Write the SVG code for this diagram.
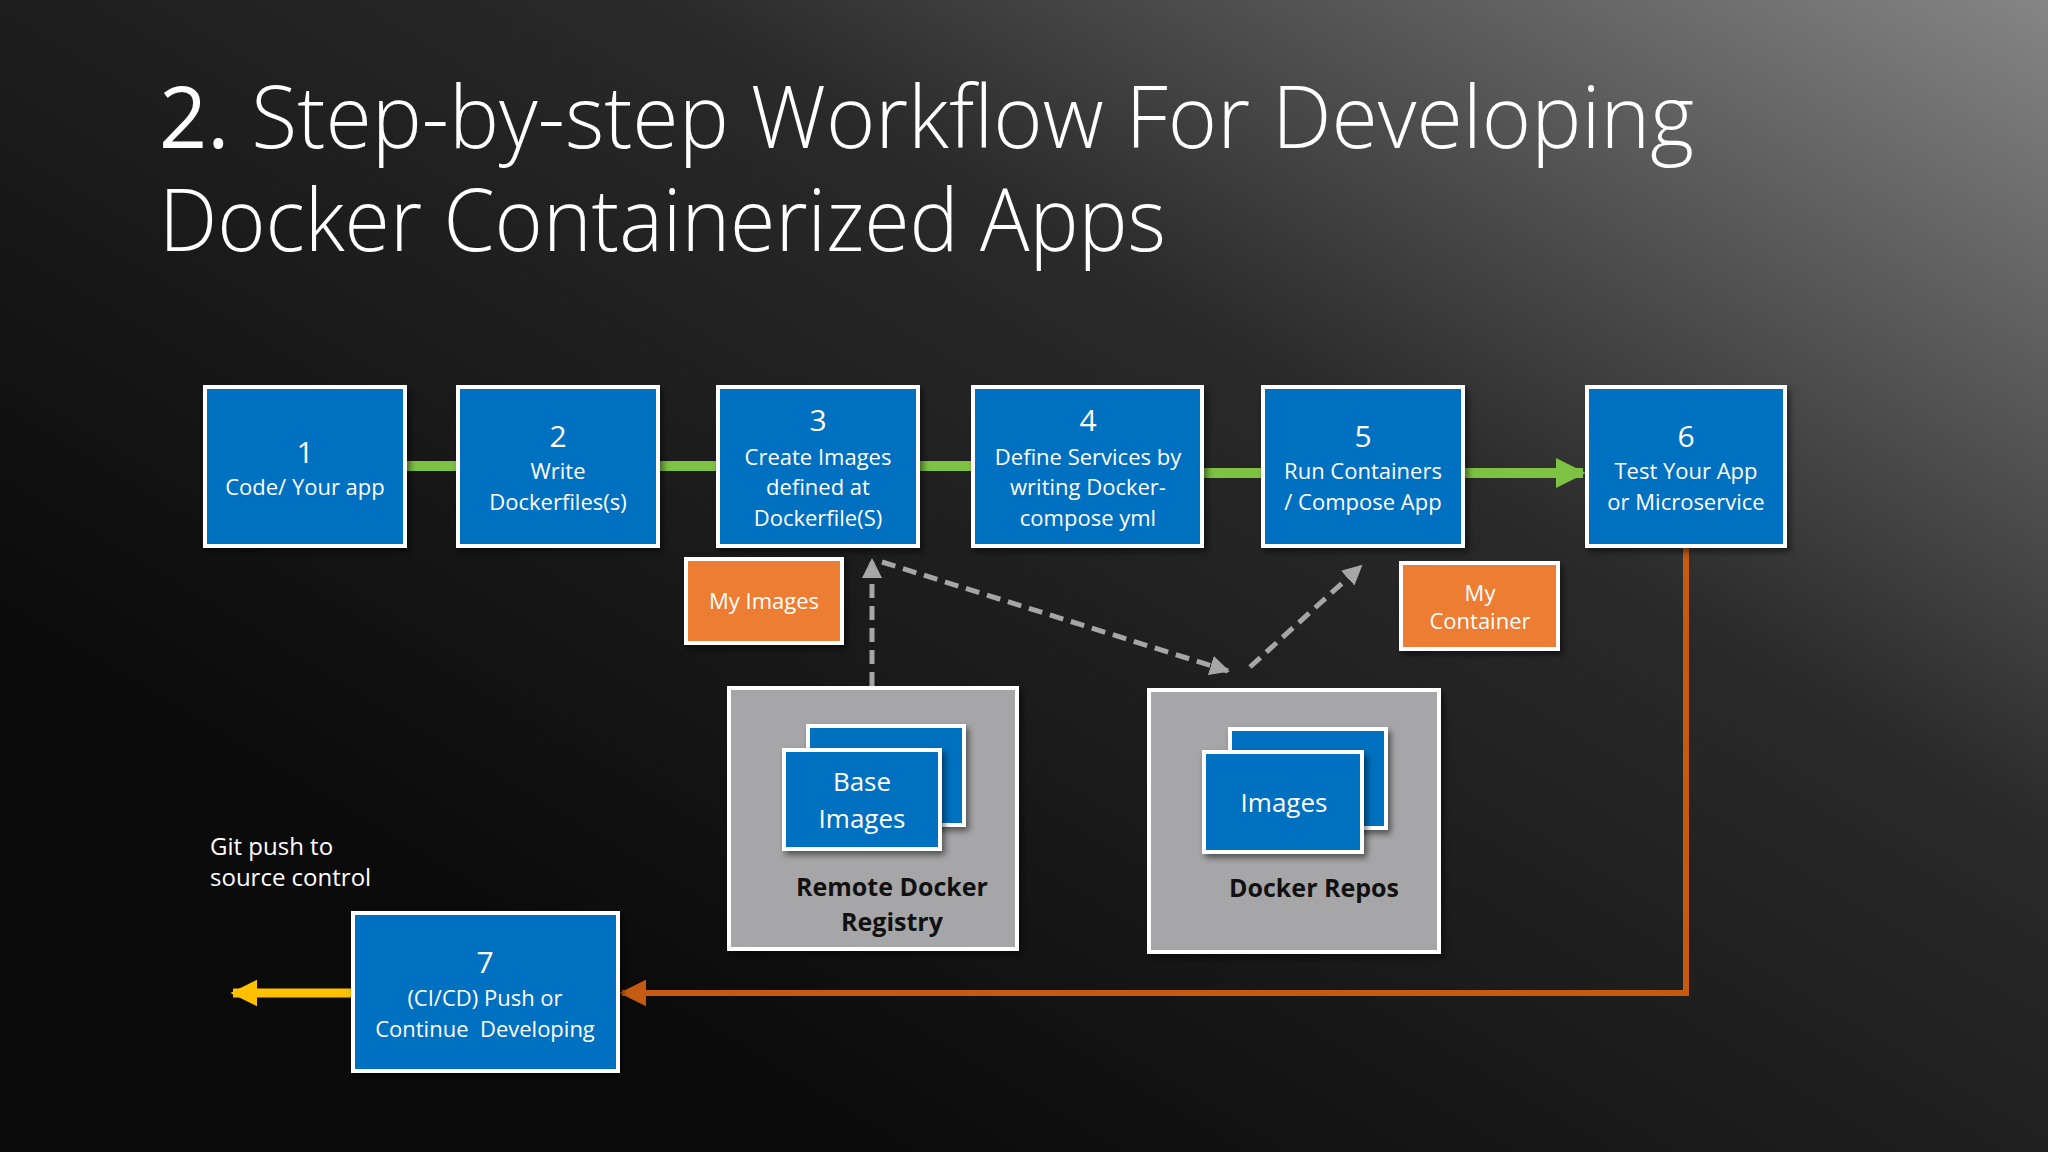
<svg xmlns="http://www.w3.org/2000/svg" width="2048" height="1152" viewBox="0 0 2048 1152">
<defs>
<linearGradient id="bg" x1="1" y1="0" x2="0.2" y2="0.75">
<stop offset="0" stop-color="#858585"/>
<stop offset="0.45" stop-color="#2a2a2a"/>
<stop offset="1" stop-color="#0b0b0b"/>
</linearGradient>
<marker id="gArr" viewBox="0 0 10 10" refX="9" refY="5" markerWidth="4" markerHeight="4" orient="auto" markerUnits="strokeWidth"><path d="M0,0 L10,5 L0,10 z" fill="#a6a6a6"/></marker>
<marker id="oArr" viewBox="0 0 10 10" refX="9" refY="5" markerWidth="4.5" markerHeight="4.5" orient="auto" markerUnits="strokeWidth"><path d="M0,0 L10,5 L0,10 z" fill="#c55a11"/></marker>
<marker id="yArr" viewBox="0 0 10 10" refX="9" refY="5" markerWidth="3" markerHeight="3" orient="auto" markerUnits="strokeWidth"><path d="M0,0 L10,5 L0,10 z" fill="#ffc000"/></marker>
<marker id="grArr" viewBox="0 0 10 10" refX="9" refY="5" markerWidth="3" markerHeight="3" orient="auto" markerUnits="strokeWidth"><path d="M0,0 L10,5 L0,10 z" fill="#7dc242"/></marker>
<filter id="sh" x="-10%" y="-10%" width="130%" height="130%"><feDropShadow dx="3" dy="4" stdDeviation="3" flood-color="#000" flood-opacity="0.5"/></filter>
</defs>
<style>
text{font-family:"Open Sans","Noto Sans","DejaVu Sans",sans-serif;fill:#fff;text-anchor:middle}
.blue{fill:#0070c0;stroke:#fff;stroke-width:4}
.orange{fill:#ed7d31;stroke:#fff;stroke-width:4}
.gray{fill:#a6a6a8;stroke:#fff;stroke-width:4}
.t{font-size:22px}
.n{font-size:30px}
.dk{fill:#111;font-weight:bold;font-size:25px}
.title{font-size:86px;text-anchor:start;font-weight:300}
</style>
<rect width="2048" height="1152" fill="url(#bg)"/>
<text class="title" x="159" y="148" textLength="1535" lengthAdjust="spacingAndGlyphs"><tspan font-weight="400">2.</tspan> Step-by-step Workflow For Developing</text>
<text class="title" x="159" y="251" textLength="1007" lengthAdjust="spacingAndGlyphs">Docker Containerized Apps</text>

<g id="connectors">
<line x1="405" y1="466" x2="458" y2="466" stroke="#7dc242" stroke-width="10"/>
<line x1="658" y1="466" x2="718" y2="466" stroke="#7dc242" stroke-width="10"/>
<line x1="918" y1="466" x2="973" y2="466" stroke="#7dc242" stroke-width="10"/>
<line x1="1202" y1="473" x2="1263" y2="473" stroke="#7dc242" stroke-width="10"/>
<line x1="1463" y1="473" x2="1583" y2="473" stroke="#7dc242" stroke-width="10" marker-end="url(#grArr)"/>
<line x1="872" y1="686" x2="872" y2="560" stroke="#a6a6a6" stroke-width="5" stroke-dasharray="14,8" marker-end="url(#gArr)"/>
<line x1="882" y1="562" x2="1228" y2="671" stroke="#a6a6a6" stroke-width="5" stroke-dasharray="14,8" marker-end="url(#gArr)"/>
<line x1="1250" y1="667" x2="1361" y2="566" stroke="#a6a6a6" stroke-width="5" stroke-dasharray="14,8" marker-end="url(#gArr)"/>
<polyline points="1686,546 1686,993 622,993" fill="none" stroke="#c55a11" stroke-width="6" marker-end="url(#oArr)"/>
<line x1="353" y1="993" x2="233" y2="993" stroke="#ffc000" stroke-width="9" marker-end="url(#yArr)"/>
</g>

<g id="n1"><rect class="blue" x="205" y="387" width="200" height="159" filter="url(#sh)"/><text class="n" x="305" y="463">1</text><text class="t" x="305" y="495">Code/ Your app</text></g>
<g id="n2"><rect class="blue" x="458" y="387" width="200" height="159" filter="url(#sh)"/><text class="n" x="558" y="447">2</text><text class="t" x="558" y="479">Write</text><text class="t" x="558" y="510">Dockerfiles(s)</text></g>
<g id="n3"><rect class="blue" x="718" y="387" width="200" height="159" filter="url(#sh)"/><text class="n" x="818" y="431">3</text><text class="t" x="818" y="465">Create Images</text><text class="t" x="818" y="495">defined at</text><text class="t" x="818" y="526">Dockerfile(S)</text></g>
<g id="n4"><rect class="blue" x="973" y="387" width="229" height="159" filter="url(#sh)"/><text class="n" x="1088" y="431">4</text><text class="t" x="1088" y="465">Define Services by</text><text class="t" x="1088" y="495">writing Docker-</text><text class="t" x="1088" y="526">compose yml</text></g>
<g id="n5"><rect class="blue" x="1263" y="387" width="200" height="159" filter="url(#sh)"/><text class="n" x="1363" y="447">5</text><text class="t" x="1363" y="479">Run Containers</text><text class="t" x="1363" y="510">/ Compose App</text></g>
<g id="n6"><rect class="blue" x="1587" y="387" width="198" height="159" filter="url(#sh)"/><text class="n" x="1686" y="447">6</text><text class="t" x="1686" y="479">Test Your App</text><text class="t" x="1686" y="510">or Microservice</text></g>
<g id="myimages"><rect class="orange" x="686" y="559" width="156" height="84" filter="url(#sh)"/><text class="t" x="764" y="609">My Images</text></g>
<g id="mycontainer"><rect class="orange" x="1401" y="563" width="157" height="86" filter="url(#sh)"/><text class="t" x="1480" y="601">My</text><text class="t" x="1480" y="629">Container</text></g>
<g id="registry"><rect class="gray" x="729" y="688" width="288" height="261" filter="url(#sh)"/>
<rect class="blue" x="808" y="726" width="156" height="99" filter="url(#sh)"/>
<rect class="blue" x="784" y="750" width="156" height="99" filter="url(#sh)"/>
<text x="862" y="791" font-size="26">Base</text><text x="862" y="828" font-size="26">Images</text>
<text class="dk" x="892" y="896">Remote Docker</text><text class="dk" x="892" y="931">Registry</text></g>
<g id="repos"><rect class="gray" x="1149" y="690" width="290" height="262" filter="url(#sh)"/>
<rect class="blue" x="1230" y="729" width="156" height="99" filter="url(#sh)"/>
<rect class="blue" x="1204" y="752" width="158" height="100" filter="url(#sh)"/>
<text x="1284" y="812" font-size="26">Images</text>
<text class="dk" x="1314" y="897">Docker Repos</text></g>
<g id="n7"><rect class="blue" x="353" y="913" width="265" height="158" filter="url(#sh)"/><text class="n" x="485" y="973">7</text><text class="t" x="485" y="1006">(CI/CD) Push or</text><text class="t" x="485" y="1037" xml:space="preserve">Continue  Developing</text></g>
<g id="gitlabel"><text x="210" y="855" font-size="24" style="text-anchor:start">Git push to</text><text x="210" y="886" font-size="24" style="text-anchor:start">source control</text></g>
</svg>
